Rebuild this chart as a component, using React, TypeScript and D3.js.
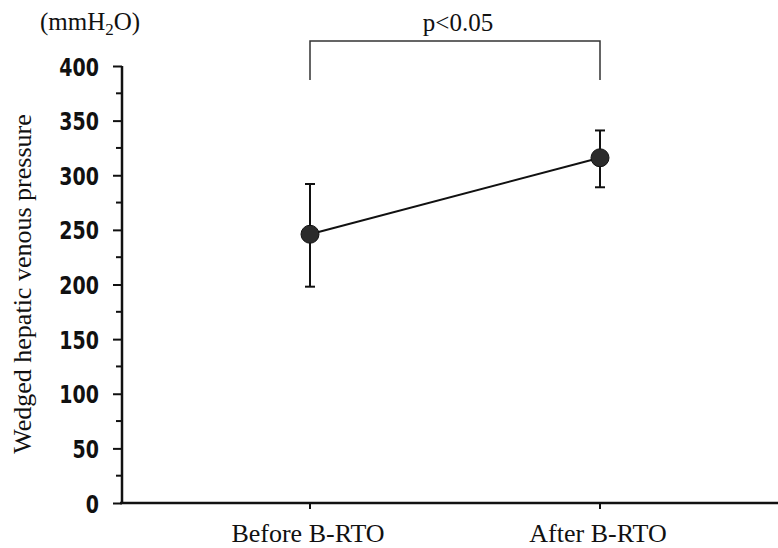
import React, { useEffect, useRef } from 'react'
import * as d3 from 'd3'

const categories = ['Before B-RTO', 'After B-RTO']
const means = [246, 316]
const upper = [292, 341]
const lower = [198, 289]
const yTicks = [0, 50, 100, 150, 200, 250, 300, 350, 400]
const pLabel = 'p<0.05'

const serif = '"Liberation Serif", "Times New Roman", serif'

export default function App() {
  const ref = useRef<SVGSVGElement>(null)

  useEffect(() => {
    const svg = d3.select(ref.current)
    svg.selectAll('*').remove()

    const width = 778
    const height = 548
    const left = 122
    const top = 66
    const bottom = 503

    svg.append('rect').attr('width', width).attr('height', height).attr('fill', '#fff')

    const y = d3.scaleLinear().domain([0, 400]).range([bottom, top])
    const x = d3.scalePoint().domain(categories).range([310, 600])

    // y axis
    const yAxis = svg.append('g').attr('transform', `translate(${left},0)`)
    yAxis.call(
      d3.axisLeft(y).tickValues(yTicks).tickSize(9).tickFormat(d3.format('d'))
    )
    yAxis.select('.domain').remove()
    yAxis.append('line')
      .attr('x1', 0).attr('x2', 0)
      .attr('y1', y(400)).attr('y2', bottom)
      .attr('stroke', '#111').attr('stroke-width', 2.5)
    yAxis.selectAll('.tick line').attr('stroke', '#111').attr('stroke-width', 2)
    // condensed tall digits
    const sx = 0.76
    yAxis.selectAll('.tick text')
      .attr('x', -23 / sx)
      .attr('dy', '0.36em')
      .attr('transform', `scale(${sx},1)`)
      .attr('fill', '#111')
      .style('font-family', '"DejaVu Sans", sans-serif')
      .style('font-weight', 'bold')
      .style('font-size', '25px')
    // minor ticks
    yAxis.selectAll('.minor')
      .data(d3.range(25, 400, 50))
      .enter().append('line')
      .attr('x1', -6).attr('x2', 0)
      .attr('y1', d => y(d)).attr('y2', d => y(d))
      .attr('stroke', '#111').attr('stroke-width', 2)

    // x axis
    const xAxis = svg.append('g').attr('transform', `translate(0,${bottom})`)
    xAxis.append('line')
      .attr('x1', left - 2).attr('x2', width)
      .attr('y1', 0).attr('y2', 0)
      .attr('stroke', '#111').attr('stroke-width', 2.5)
    xAxis.selectAll('.xt')
      .data(categories)
      .enter().append('line')
      .attr('x1', d => x(d)!).attr('x2', d => x(d)!)
      .attr('y1', 0).attr('y2', 6)
      .attr('stroke', '#111').attr('stroke-width', 2)
    xAxis.selectAll('.xl')
      .data(categories)
      .enter().append('text')
      .attr('x', d => x(d)! - 2)
      .attr('y', 39)
      .attr('text-anchor', 'middle')
      .attr('fill', '#111')
      .style('font-family', serif)
      .style('font-size', '26px')
      .text(d => d)

    // error bars
    const g = svg.append('g')
    categories.forEach((c, i) => {
      const cx = x(c)!
      g.append('line')
        .attr('x1', cx).attr('x2', cx)
        .attr('y1', y(upper[i])).attr('y2', y(lower[i]))
        .attr('stroke', '#111').attr('stroke-width', 2)
      ;[upper[i], lower[i]].forEach(v => {
        g.append('line')
          .attr('x1', cx - 5).attr('x2', cx + 5)
          .attr('y1', y(v)).attr('y2', y(v))
          .attr('stroke', '#111').attr('stroke-width', 2)
      })
    })

    const line = d3.line<number>()
      .x((_, i) => x(categories[i])!)
      .y(d => y(d))
    g.append('path')
      .datum(means)
      .attr('d', line)
      .attr('fill', 'none')
      .attr('stroke', '#111')
      .attr('stroke-width', 2)

    g.selectAll('circle')
      .data(means)
      .enter().append('circle')
      .attr('cx', (_, i) => x(categories[i])!)
      .attr('cy', d => y(d))
      .attr('r', 9)
      .attr('fill', '#2b2b2b')
      .attr('stroke', '#111')
      .attr('stroke-width', 1)

    // significance bracket
    const bTop = 41
    const bBottom = 80
    const x0 = x(categories[0])!
    const x1 = x(categories[1])!
    svg.append('path')
      .attr('d', `M${x0},${bBottom}V${bTop}H${x1}V${bBottom}`)
      .attr('fill', 'none')
      .attr('stroke', '#333')
      .attr('stroke-width', 1.5)
    svg.append('text')
      .attr('x', (x0 + x1) / 2 + 3)
      .attr('y', 31)
      .attr('text-anchor', 'middle')
      .attr('fill', '#111')
      .style('font-family', serif)
      .style('font-size', '25px')
      .text(pLabel)

    // unit label
    const unit = svg.append('text')
      .attr('x', 40)
      .attr('y', 30)
      .attr('fill', '#111')
      .style('font-family', serif)
      .style('font-size', '25px')
    unit.append('tspan').text('(mmH')
    unit.append('tspan').attr('dy', 5).style('font-size', '17px').text('2')
    unit.append('tspan').attr('dy', -5).text('O)')

    // y title
    svg.append('text')
      .attr('transform', `translate(31,${284}) rotate(-90)`)
      .attr('text-anchor', 'middle')
      .attr('fill', '#111')
      .style('font-family', serif)
      .style('font-size', '26px')
      .text('Wedged hepatic venous pressure')
  }, [])

  return (
    <svg
      ref={ref}
      width={778}
      height={548}
      style={{ position: 'absolute', left: 0, top: 0 }}
    />
  )
}
